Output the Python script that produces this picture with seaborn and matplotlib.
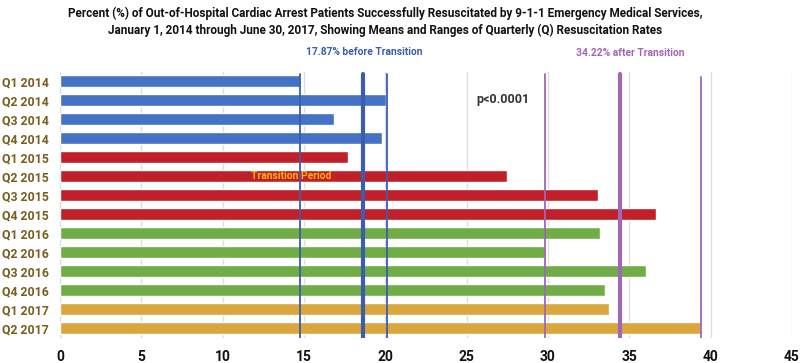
import matplotlib
matplotlib.use("Agg")
import matplotlib.pyplot as plt
import seaborn as sns
import pandas as pd

quarters = ["Q1 2014", "Q2 2014", "Q3 2014", "Q4 2014",
            "Q1 2015", "Q2 2015", "Q3 2015", "Q4 2015",
            "Q1 2016", "Q2 2016", "Q3 2016", "Q4 2016",
            "Q1 2017", "Q2 2017"]
rates = [14.75, 20.07, 16.86, 19.79,
         17.68, 27.5, 33.09, 36.67,
         33.19, 29.81, 36.0, 33.5,
         33.76, 39.4]
groups = ["2014"] * 4 + ["2015"] * 4 + ["2016"] * 4 + ["2017"] * 2
group_colors = {"2014": "#4472C4", "2015": "#C0202A", "2016": "#70AD47", "2017": "#DBA63C"}

before_lines = [14.75, 18.6, 20.1]   # min, mean, max before transition
after_lines = [29.83, 34.42, 39.38]  # min, mean, max after transition
xticks = [0, 5, 10, 15, 20, 25, 30, 35, 40, 45]

df = pd.DataFrame({"quarter": quarters, "rate": rates, "group": groups})

sns.set_theme(style="white")
plt.rcParams["font.family"] = ["Roboto", "DejaVu Sans"]

fig = plt.figure(figsize=(8, 3.63), dpi=100)
ax = fig.add_axes([0.075, 1 - 337.5 / 363, 0.915, 266 / 363])

sns.barplot(data=df, y="quarter", x="rate", hue="group", palette=group_colors,
            dodge=False, width=0.63, legend=False, ax=ax, saturation=1, zorder=2)

ax.set_xlim(0, 45)
ax.set_ylim(13.5, -0.5)
ax.set_xticks(xticks)
ax.set_xticklabels([str(t) for t in xticks], fontsize=10, fontweight="bold", color="#111111")
ax.tick_params(axis="x", length=0, pad=9)
ax.tick_params(axis="y", length=0, pad=8)
for lab in ax.get_yticklabels():
    lab.set_fontsize(8.8)
    lab.set_fontweight("bold")
    lab.set_color("#7A5C1E")
ax.set_xlabel("")
ax.set_ylabel("")
for s in ax.spines.values():
    s.set_visible(False)
ax.grid(axis="x", color="#dddddd", linewidth=1, zorder=0)
ax.set_axisbelow(True)

for i, v in enumerate(before_lines):
    ax.axvline(v, ymin=0, ymax=0.99, color="#3A5DAE", linewidth=3 if i == 1 else 1.3, zorder=3)
for i, v in enumerate(after_lines):
    ax.axvline(v, ymin=0, ymax=0.99 if i < 2 else 0.98, color="#A066B8", linewidth=3 if i == 1 else 1.3, zorder=3)

ax.text(27.2, 1.0, "p<0.0001", fontsize=9, fontweight="bold", color="#333333", va="center", ha="center")
ax.text(11.75, 5.0, "Transition Period", fontsize=7.5, fontweight="bold", color="#FFB000", va="center", ha="left", zorder=4)

fig.text(385 / 800, 1 - 13 / 363, "Percent (%) of Out-of-Hospital Cardiac Arrest Patients Successfully Resuscitated by 9-1-1 Emergency Medical Services,",
         ha="center", va="center", fontsize=8.5, fontweight="bold", color="#111111")
fig.text(385 / 800, 1 - 30 / 363, "January 1, 2014 through June 30, 2017, Showing Means and Ranges of Quarterly (Q) Resuscitation Rates",
         ha="center", va="center", fontsize=8.5, fontweight="bold", color="#111111")
fig.text(364 / 800, 1 - 52 / 363, "17.87% before Transition", ha="center", va="center", fontsize=7.4, fontweight="bold", color="#3A5DAE")
fig.text(630 / 800, 1 - 53 / 363, "34.22% after Transition", ha="center", va="center", fontsize=7.4, fontweight="bold", color="#A066B8")

fig.savefig("out.png", dpi=100, facecolor="white")
